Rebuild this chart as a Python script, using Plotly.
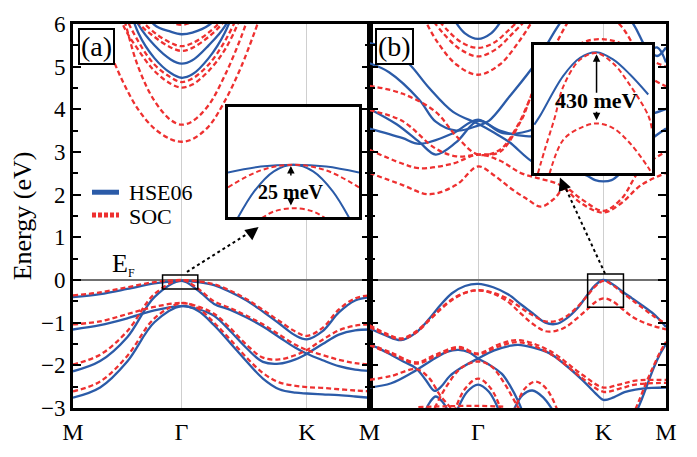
import plotly.graph_objects as go

BLUE = "#2B5BA8"
RED = "#EE3030"
FONT = "Liberation Serif"

# ---------------- path ticks ----------------
K_TICKS = [0, 1.0, 2.155, 2.732]
TICK_A = ["M", "Γ", "K", ""]
TICK_B = ["M", "Γ", "K", "M"]
LEGEND_NAMES = ["HSE06", "SOC"]

# ---------------- panel (a) valence bands ----------------
KA = [0, 0.25, 0.5, 0.75, 1.0, 1.15, 1.3, 1.45, 1.6, 1.75, 1.9, 2.05, 2.155, 2.3, 2.45, 2.6, 2.732]
a_hse_v1 = [-0.40, -0.33, -0.21, -0.08, -0.02, -0.05, -0.12, -0.28, -0.48, -0.74, -1.02, -1.30, -1.39, -1.20, -0.76, -0.48, -0.40]
a_hse_v2 = [-2.14, -1.90, -1.34, -0.40, -0.02, -0.24, -0.56, -0.70, -0.88, -1.09, -1.34, -1.59, -1.73, -1.88, -2.02, -2.10, -2.13]
a_hse_v3 = [-1.16, -1.06, -0.90, -0.71, -0.61, -0.68, -0.84, -1.20, -1.60, -1.92, -1.96, -1.86, -1.73, -1.50, -1.28, -1.18, -1.16]
a_hse_v4 = [-2.76, -2.52, -1.91, -0.99, -0.61, -0.72, -1.06, -1.48, -1.91, -2.31, -2.56, -2.64, -2.66, -2.68, -2.70, -2.73, -2.76]
a_soc_v1 = [-0.36, -0.29, -0.17, -0.05, 0.00, -0.03, -0.10, -0.25, -0.45, -0.70, -0.96, -1.21, -1.31, -1.12, -0.69, -0.43, -0.36]
a_soc_v2 = [-1.98, -1.75, -1.20, -0.33, 0.00, -0.20, -0.50, -0.66, -0.84, -1.04, -1.28, -1.52, -1.64, -1.76, -1.87, -1.95, -1.98]
a_soc_v3 = [-1.04, -0.97, -0.80, -0.63, -0.54, -0.62, -0.79, -1.13, -1.52, -1.82, -1.86, -1.76, -1.64, -1.40, -1.18, -1.07, -1.04]
a_soc_v4 = [-2.61, -2.38, -1.78, -0.90, -0.54, -0.66, -1.00, -1.40, -1.82, -2.18, -2.40, -2.48, -2.51, -2.53, -2.56, -2.59, -2.61]

# ---------------- panel (a) conduction bands ----------------
KC = [0.3, 0.45, 0.6, 0.75, 0.9, 1.0, 1.1, 1.25, 1.4, 1.55, 1.7]
a_hse_c1 = [8.5, 7.0, 5.8, 5.2, 4.85, 4.74, 4.82, 5.2, 5.8, 6.8, 8.0]
a_hse_c2 = [8.5, 7.0, 6.0, 5.5, 5.17, 5.07, 5.15, 5.5, 5.95, 6.8, 8.0]
a_hse_c3 = [9.0, 7.6, 6.6, 5.98, 5.82, 5.76, 5.80, 5.97, 6.4, 7.3, 8.5]
a_soc_c1 = [5.6, 4.7, 4.0, 3.55, 3.30, 3.24, 3.30, 3.60, 4.2, 5.0, 6.0]
a_soc_c2 = [7.5, 6.3, 5.0, 4.2, 3.75, 3.64, 3.72, 4.10, 4.8, 5.7, 6.8]
a_soc_c3 = [7.8, 6.05, 5.4, 4.9, 4.60, 4.51, 4.58, 4.90, 5.4, 6.2, 7.4]
a_soc_c4 = [8.0, 6.4, 5.6, 5.05, 4.75, 4.64, 4.72, 5.05, 5.6, 6.4, 7.6]
a_soc_c5 = [8.2, 7.0, 6.05, 5.70, 5.45, 5.37, 5.44, 5.70, 6.1, 7.0, 8.0]
a_soc_c6 = [8.4, 7.2, 6.2, 5.80, 5.56, 5.48, 5.55, 5.80, 6.2, 7.2, 8.2]
a_soc_c7 = [9.0, 7.8, 6.8, 6.3, 6.05, 5.98, 6.05, 6.3, 6.8, 7.8, 9.0]

# ---------------- panel (b) valence bands ----------------
KB1 = [0, 0.15, 0.29, 0.42, 0.55, 0.65, 0.76, 0.88, 1.0, 1.14, 1.28, 1.4, 1.5, 1.62, 1.72, 1.81, 1.92, 2.01, 2.08, 2.155, 2.24, 2.33, 2.42, 2.51, 2.62, 2.732]
b_hse_v1 = [-1.13, -1.30, -1.41, -1.25, -0.91, -0.60, -0.31, -0.14, -0.09, -0.17, -0.34, -0.58, -0.77, -1.00, -1.03, -0.91, -0.65, -0.34, -0.12, 0.00, -0.10, -0.27, -0.43, -0.59, -0.80, -1.10]
b_soc_v1a = [-1.06, -1.25, -1.37, -1.22, -0.93, -0.68, -0.45, -0.30, -0.24, -0.30, -0.45, -0.66, -0.82, -0.97, -0.96, -0.86, -0.62, -0.36, -0.15, -0.02, -0.12, -0.30, -0.47, -0.64, -0.85, -1.02]
b_soc_v1b = [-1.10, -1.28, -1.39, -1.25, -0.95, -0.70, -0.47, -0.30, -0.24, -0.32, -0.52, -0.80, -1.02, -1.20, -1.19, -1.10, -0.88, -0.68, -0.52, -0.43, -0.50, -0.68, -0.86, -0.98, -1.08, -1.16]

KB2 = [0, 0.1, 0.21, 0.32, 0.43, 0.52, 0.6, 0.66, 0.74, 0.85, 1.0, 1.15, 1.3, 1.37, 1.5, 1.66, 1.8, 1.96, 2.08, 2.155, 2.25, 2.35, 2.45, 2.6, 2.732]
b_hse_v2 = [-1.51, -1.62, -1.77, -1.92, -2.07, -2.35, -2.60, -2.50, -2.25, -2.05, -1.84, -1.65, -1.54, -1.52, -1.58, -1.72, -1.98, -2.34, -2.65, -2.81, -2.75, -2.63, -2.57, -2.53, -2.52]

KB3 = [0, 0.2, 0.4, 0.6, 0.72, 0.82, 0.92, 1.0, 1.1, 1.22, 1.3, 1.37, 1.42]
b_hse_v3 = [-2.52, -2.42, -2.16, -1.84, -1.68, -1.64, -1.70, -1.84, -1.98, -2.20, -2.50, -2.84, -3.15]

KB_ARC1 = [0.5, 0.56, 0.61, 0.67, 0.74]
b_hse_arc1 = [-3.15, -2.85, -2.73, -2.85, -3.15]
KB_ARC2 = [0.8, 0.9, 1.0, 1.1, 1.2]
b_hse_arc2 = [-3.10, -2.62, -2.45, -2.62, -3.10]
KB_ARC3 = [1.32, 1.41, 1.5, 1.6, 1.7]
b_hse_arc3 = [-3.10, -2.70, -2.59, -2.75, -3.10]
KB_STEEP = [2.44, 2.5, 2.56, 2.62, 2.68, 2.732]
b_hse_steep = [-3.20, -2.85, -2.45, -2.05, -1.72, -1.50]

KB4 = [0, 0.2, 0.43, 0.6, 0.82, 1.0, 1.2, 1.38, 1.66, 1.96, 2.155, 2.3, 2.45, 2.732]
b_soc_v2a = [-1.50, -1.70, -1.93, -1.76, -1.57, -1.72, -1.50, -1.41, -1.66, -2.22, -2.52, -2.45, -2.36, -2.34]
b_soc_v2b = [-1.53, -1.73, -1.96, -1.80, -1.60, -1.74, -1.55, -1.46, -1.72, -2.30, -2.62, -2.55, -2.45, -2.41]
KB5 = [0, 0.2, 0.43, 0.55, 0.65, 0.75, 0.82]
b_soc_v3 = [-2.34, -2.25, -2.09, -2.30, -2.70, -3.00, -3.20]
KB6 = [0.6, 0.72, 0.85, 1.0, 1.12, 1.25, 1.35, 1.42]
b_soc_v4 = [-3.00, -2.45, -2.05, -1.91, -2.02, -2.45, -2.90, -3.20]
KB_RARC2 = [0.78, 0.88, 1.0, 1.12, 1.22]
b_soc_arc2 = [-3.10, -2.55, -2.31, -2.55, -3.10]
KB_RARC3 = [1.33, 1.43, 1.53, 1.63, 1.74]
b_soc_arc3 = [-3.10, -2.55, -2.38, -2.55, -3.10]
KB_RSTEEP = [2.42, 2.48, 2.55, 2.62, 2.68, 2.732]
b_soc_steep = [-3.20, -2.85, -2.40, -2.00, -1.68, -1.45]
KB_RFLAT = [0.45, 0.7, 1.0, 1.25]
b_soc_flat = [-2.98, -2.96, -2.95, -2.97]

# ---------------- panel (b) conduction bands ----------------
KBC1 = [0.78, 0.88, 1.0, 1.12, 1.22]
b_hse_c1 = [6.10, 5.78, 5.65, 5.78, 6.10]
KBC2 = [0, 0.2, 0.37, 0.55, 0.77, 1.0, 1.15, 1.29, 1.53, 1.8, 2.0, 2.08, 2.155, 2.23, 2.31, 2.5, 2.732]
b_hse_c2 = [5.55, 5.40, 5.05, 4.50, 3.94, 3.66, 3.45, 3.23, 2.73, 2.60, 2.45, 2.34, 2.31, 2.34, 2.50, 3.10, 3.55]
KBC3 = [0, 0.18, 0.46, 0.61, 0.8, 1.0, 1.1, 1.29, 1.53, 1.75, 2.0, 2.4, 2.55, 2.65, 2.732]
b_hse_c3 = [5.08, 4.87, 4.22, 3.71, 3.50, 3.62, 3.73, 4.30, 5.08, 6.00, 6.80, 6.10, 5.45, 5.25, 5.45]
KBC4 = [0, 0.25, 0.46, 0.61, 0.8, 1.0, 1.2, 1.44, 1.7, 2.1, 2.61, 2.732]
b_hse_c4 = [4.01, 3.65, 3.23, 2.94, 3.23, 3.73, 3.50, 3.37, 3.40, 3.60, 3.90, 4.01]
KBC5 = [0, 0.3, 0.46, 0.77, 1.0, 1.23, 1.53, 2.1, 2.55, 2.65, 2.732]
b_hse_c5 = [3.55, 3.33, 3.19, 3.44, 3.76, 3.44, 3.55, 4.50, 5.30, 5.45, 5.10]

KRC1 = [0.6, 0.72, 0.86, 1.0, 1.14, 1.28, 1.42]
b_soc_c1 = [6.20, 5.85, 5.55, 5.44, 5.55, 5.85, 6.20]
KRC2 = [0.55, 0.68, 0.84, 1.0, 1.16, 1.32, 1.48]
b_soc_c2 = [6.20, 5.78, 5.40, 5.24, 5.40, 5.78, 6.20]
KRC3 = [0.5, 0.62, 0.8, 1.0, 1.2, 1.38, 1.52]
b_soc_c3 = [6.15, 5.60, 5.05, 4.81, 5.05, 5.60, 6.15]
KRC4 = [0, 0.3, 0.61, 0.8, 1.0, 1.2, 1.36, 1.5, 1.65, 2.0, 2.3, 2.5, 2.732]
b_soc_c4 = [4.55, 4.37, 3.94, 3.37, 2.94, 3.05, 3.60, 4.37, 5.20, 6.50, 6.00, 5.30, 5.00]
KRC5 = [0, 0.3, 0.61, 0.8, 1.0, 1.2, 1.4, 1.55, 2.0, 2.35, 2.5, 2.732]
b_soc_c5 = [3.98, 3.73, 3.08, 2.90, 2.94, 3.00, 3.75, 4.60, 5.60, 5.50, 4.90, 4.54]
KRC6 = [0, 0.3, 0.46, 0.77, 1.0, 1.2, 1.4, 1.58, 1.76, 1.95, 2.155, 2.32, 2.5, 2.732]
b_soc_c6 = [3.05, 2.73, 2.62, 2.73, 2.94, 2.80, 2.50, 2.37, 2.22, 1.80, 1.58, 1.80, 2.22, 2.51]
KRC7 = [0, 0.3, 0.55, 0.8, 1.0, 1.15, 1.3, 1.45, 1.58, 1.7, 1.8, 1.95, 2.155, 2.32, 2.5, 2.732]
b_soc_c7 = [2.51, 2.23, 2.01, 2.23, 2.66, 2.45, 2.15, 1.90, 1.72, 1.90, 2.15, 1.90, 1.62, 1.90, 2.60, 3.01]

# ---------------- insets (offset from band maximum, meV) ----------------
INA_K_FLAT = [-0.1, -0.05, 0.0, 0.05, 0.1]
ina_hse_flat = [-4.5, -1.1, 0.0, -1.1, -4.5]
INA_K_STEEP = [-0.09, -0.06, -0.03, 0.0, 0.03, 0.06, 0.09]
ina_hse_steep = [-34.0, -15.3, -3.8, 0.0, -3.8, -15.3, -34.0]
ina_soc_up = [-13.0, -3.3, 0.0, -3.3, -13.0]
INA_K_LOW = [-0.07, -0.05, -0.03, 0.0, 0.03, 0.05, 0.07]
ina_soc_low = [-35.0, -31.0, -26.9, -25.0, -26.9, -31.0, -35.0]

INB_K_HSE = [-0.106, -0.096, -0.057, -0.028, 0.0, 0.028, 0.057, 0.088]
inb_hse = [-437, -383, -144, -33, 0, -43, -134, -255]
INB_K_UP = [-0.1, -0.088, -0.071, -0.057, -0.028, 0.0, 0.028, 0.057, 0.088, 0.094]
inb_soc_up = [-734, -587, -393, -210, -44, -5, -66, -199, -382, -460]
INB_K_LOW = [-0.08, -0.057, -0.028, 0.0, 0.028, 0.057, 0.088, 0.094]
inb_soc_low = [-734, -531, -458, -430, -458, -550, -697, -734]

fig = go.Figure()

def band(k, e, color, dashed, xa, ya, width=2.3):
    fig.add_trace(go.Scatter(
        x=k, y=e, mode="lines", xaxis=xa, yaxis=ya, showlegend=False, hoverinfo="skip",
        line=dict(color=color, width=width, dash="5px,3px" if dashed else "solid",
                  shape="spline", smoothing=1.0)))

# panel a
for e in [a_hse_v1, a_hse_v2, a_hse_v3, a_hse_v4]:
    band(KA, e, BLUE, False, "x", "y")
for e in [a_hse_c1, a_hse_c2, a_hse_c3]:
    band(KC, e, BLUE, False, "x", "y")
for e in [a_soc_v1, a_soc_v2, a_soc_v3, a_soc_v4]:
    band(KA, e, RED, True, "x", "y")
for e in [a_soc_c1, a_soc_c2, a_soc_c3, a_soc_c4, a_soc_c5, a_soc_c6, a_soc_c7]:
    band(KC, e, RED, True, "x", "y")

# panel b
for k, e in [(KB1, b_hse_v1), (KB2, b_hse_v2), (KB3, b_hse_v3), (KB_ARC1, b_hse_arc1),
             (KB_ARC2, b_hse_arc2), (KB_ARC3, b_hse_arc3), (KB_STEEP, b_hse_steep),
             (KBC1, b_hse_c1), (KBC2, b_hse_c2), (KBC3, b_hse_c3), (KBC4, b_hse_c4), (KBC5, b_hse_c5)]:
    band(k, e, BLUE, False, "x2", "y2")
for k, e in [(KB1, b_soc_v1a), (KB1, b_soc_v1b), (KB4, b_soc_v2a), (KB4, b_soc_v2b), (KB5, b_soc_v3),
             (KB6, b_soc_v4), (KB_RARC2, b_soc_arc2), (KB_RARC3, b_soc_arc3), (KB_RSTEEP, b_soc_steep),
             (KB_RFLAT, b_soc_flat), (KRC1, b_soc_c1), (KRC2, b_soc_c2), (KRC3, b_soc_c3),
             (KRC4, b_soc_c4), (KRC5, b_soc_c5), (KRC6, b_soc_c6), (KRC7, b_soc_c7)]:
    band(k, e, RED, True, "x2", "y2")

# inset a
band(INA_K_FLAT, ina_hse_flat, BLUE, False, "x3", "y3", 2)
band(INA_K_STEEP, ina_hse_steep, BLUE, False, "x3", "y3", 2)
band(INA_K_FLAT, ina_soc_up, RED, True, "x3", "y3", 2)
band(INA_K_LOW, ina_soc_low, RED, True, "x3", "y3", 2)
# inset b
band(INB_K_HSE, inb_hse, BLUE, False, "x4", "y4", 2)
band(INB_K_UP, inb_soc_up, RED, True, "x4", "y4", 2)
band(INB_K_LOW, inb_soc_low, RED, True, "x4", "y4", 2)

# ---------------- layout ----------------
L, R, T, B = 73, 31, 13, 24
W, H = 697, 457
PW, PH = W - L - R, H - T - B

def px_x(p):
    return (p - L) / PW

def px_y(p):
    return (H - B - p) / PH

tickfont = dict(family=FONT, size=23, color="black")
xcommon = dict(range=[0, 2.732], tickvals=K_TICKS, showgrid=True, gridcolor="#cfcfcf", gridwidth=1,
               showline=True, linecolor="black", linewidth=3, mirror=True, ticks="",
               zeroline=False, tickfont=dict(family=FONT, size=24, color="black"), fixedrange=True)
ycommon = dict(range=[-3, 6], dtick=1, tick0=0, showgrid=False, showline=True, linecolor="black",
               linewidth=3, mirror="ticks", ticks="inside", ticklen=8, tickwidth=2, tickcolor="black",
               minor=dict(ticks="inside", dtick=0.5, ticklen=5, tickwidth=2, tickcolor="black"),
               zeroline=True, zerolinecolor="#707070", zerolinewidth=1.6, tickfont=tickfont)

split = 0.5
inset_common = dict(showline=True, linecolor="black", linewidth=2.5, mirror=True, ticks="",
                    showticklabels=False, showgrid=False, zeroline=False)

fig.update_layout(
    width=W, height=H, margin=dict(l=L, r=R, t=T, b=B),
    paper_bgcolor="white", plot_bgcolor="white",
    font=dict(family=FONT, color="black"),
    xaxis=dict(domain=[0, split], ticktext=TICK_A, anchor="y", **xcommon),
    xaxis2=dict(domain=[split, 1], ticktext=TICK_B, anchor="y2", **xcommon),
    yaxis=dict(domain=[0, 1], anchor="x",
               title=dict(text="Energy (eV)", font=dict(family=FONT, size=26), standoff=2), **ycommon),
    yaxis2=dict(domain=[0, 1], anchor="x2", showticklabels=False, **ycommon),
    xaxis3=dict(domain=[px_x(228), px_x(359)], range=[-0.1, 0.1], anchor="y3", **inset_common),
    yaxis3=dict(domain=[px_y(224), px_y(104)], range=[-30, 33], anchor="x3", **inset_common),
    xaxis4=dict(domain=[px_x(534), px_x(652)], range=[-0.1065, 0.0944], anchor="y4", **inset_common),
    yaxis4=dict(domain=[px_y(176), px_y(36)], range=[-730, 44], anchor="x4", **inset_common),
    showlegend=False,
)

# legend (line samples + labels)
fig.add_shape(type="line", xref="paper", yref="paper", x0=px_x(92), x1=px_x(119),
              y0=px_y(197), y1=px_y(197), line=dict(color=BLUE, width=5))
fig.add_shape(type="line", xref="paper", yref="paper", x0=px_x(92), x1=px_x(119),
              y0=px_y(222), y1=px_y(222), line=dict(color=RED, width=5, dash="4px,2px"))

# boxes around band edges
fig.add_shape(type="rect", xref="x", yref="y", x0=0.825, x1=1.15, y0=-0.21, y1=0.12,
              line=dict(color="black", width=1.5))
fig.add_shape(type="rect", xref="x2", yref="y2", x0=2.01, x1=2.34, y0=-0.64, y1=0.14,
              line=dict(color="black", width=1.5))
# dashed pointer lines
fig.add_shape(type="line", xref="x", yref="y", x0=1.05, y0=0.19, x1=1.68, y1=1.20,
              line=dict(color="black", width=2, dash="dot"))
fig.add_shape(type="line", xref="x2", yref="y2", x0=2.17, y0=0.15, x1=1.78, y1=2.30,
              line=dict(color="black", width=2, dash="dot"))

ann = []
ann.append(dict(xref="paper", yref="paper", x=px_x(127), y=px_y(197), xanchor="left", yanchor="middle",
                text=LEGEND_NAMES[0], showarrow=False, font=dict(family=FONT, size=22, color="black")))
ann.append(dict(xref="paper", yref="paper", x=px_x(127), y=px_y(223), xanchor="left", yanchor="middle",
                text=LEGEND_NAMES[1], showarrow=False, font=dict(family=FONT, size=22, color="black")))
# arrowheads of pointers
ann.append(dict(xref="x", yref="y", x=1.71, y=1.24, ax=-9, ay=7, text="", showarrow=True,
                arrowhead=2, arrowsize=1.3, arrowwidth=2, arrowcolor="black"))
ann.append(dict(xref="x2", yref="y2", x=1.755, y=2.40, ax=4, ay=10, text="", showarrow=True,
                arrowhead=2, arrowsize=1.3, arrowwidth=2, arrowcolor="black"))
# inset arrows and labels
ann.append(dict(xref="x3", yref="y3", x=-0.004, y=-0.7, ax=0, ay=11, text="", showarrow=True,
                arrowhead=2, arrowsize=1, arrowwidth=1.5, arrowcolor="black"))
ann.append(dict(xref="x3", yref="y3", x=-0.004, y=-23.4, ax=0, ay=-9, text="", showarrow=True,
                arrowhead=2, arrowsize=1, arrowwidth=1.5, arrowcolor="black"))
ann.append(dict(xref="x3", yref="y3", x=-0.004, y=-15.5, text="<b>25 meV</b>", showarrow=False,
                font=dict(family=FONT, size=20, color="black")))
ann.append(dict(xref="x4", yref="y4", x=0.0, y=-11, ax=0, ay=40, text="", showarrow=True,
                arrowhead=2, arrowsize=1, arrowwidth=1.5, arrowcolor="black"))
ann.append(dict(xref="x4", yref="y4", x=0.0, y=-411, ax=0, ay=-10, text="", showarrow=True,
                arrowhead=2, arrowsize=1, arrowwidth=1.5, arrowcolor="black"))
ann.append(dict(xref="x4", yref="y4", x=0.0, y=-290, text="<b>430 meV</b>", showarrow=False,
                font=dict(family=FONT, size=22, color="black")))
# panel labels
ann.append(dict(xref="paper", yref="paper", x=px_x(78), y=px_y(17), xanchor="left", yanchor="top",
                text="(a)", showarrow=False, font=dict(family=FONT, size=28, color="black"),
                bordercolor="black", borderwidth=2, borderpad=1, bgcolor="white"))
ann.append(dict(xref="paper", yref="paper", x=px_x(375), y=px_y(17), xanchor="left", yanchor="top",
                text="(b)", showarrow=False, font=dict(family=FONT, size=28, color="black"),
                bordercolor="black", borderwidth=2, borderpad=1, bgcolor="white"))
# Fermi level label
ann.append(dict(xref="paper", yref="paper", x=px_x(110), y=px_y(276), xanchor="left", yanchor="middle",
                text='E<sub><span style="font-size:12px">F</span></sub>',
                showarrow=False, font=dict(family=FONT, size=26, color="black")))
fig.update_layout(annotations=ann)

fig.write_html("out.html")
